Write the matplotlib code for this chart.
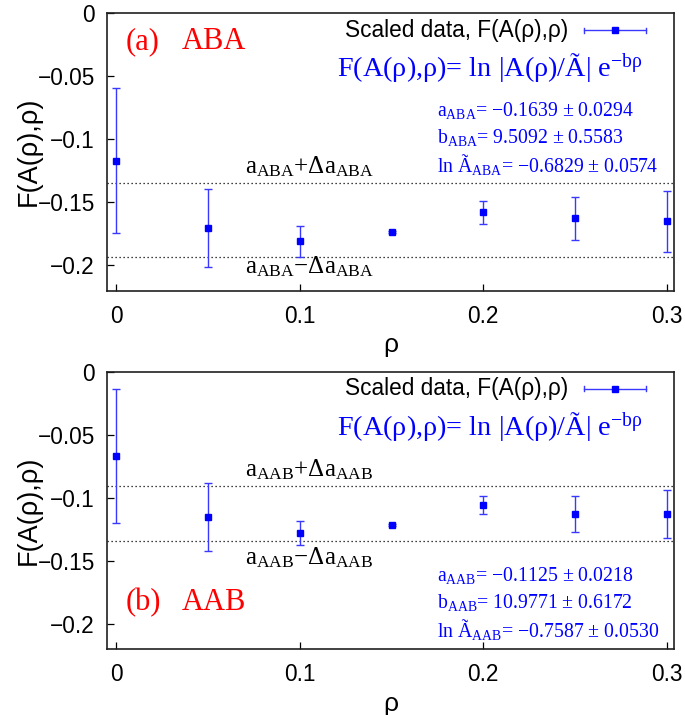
#!/usr/bin/env python3

import matplotlib
matplotlib.use("Agg")
import matplotlib.pyplot as plt

plt.rcParams["font.family"] = ["Liberation Sans", "DejaVu Sans"]
plt.rcParams["mathtext.fontset"] = "custom"
plt.rcParams["mathtext.rm"] = "Liberation Serif"
plt.rcParams["mathtext.it"] = "Liberation Serif:italic"
plt.rcParams["mathtext.bf"] = "Liberation Serif:bold"

##########################################################################
# DATA
##########################################################################

rho = [0.0, 0.05, 0.10, 0.15, 0.20, 0.25, 0.30]

F_aba = [-0.117, -0.1705, -0.181, -0.1737, -0.158, -0.1626, -0.165]
dF_aba = [0.0575, 0.031, 0.012, 0.001, 0.009, 0.017, 0.024]

F_aab = [-0.067, -0.115, -0.1278, -0.1215, -0.1057, -0.1128, -0.1128]
dF_aab = [0.053, 0.027, 0.0098, 0.001, 0.007, 0.014, 0.0187]

# fit results: a, da, b, db, lnA, dlnA
fit_aba = ["-0.1639", "0.0294", "9.5092", "0.5583", "-0.6829", "0.0574"]
fit_aab = ["-0.1125", "0.0218", "10.9771", "0.6172", "-0.7587", "0.0530"]

x_ticks = [0, 0.1, 0.2, 0.3]
x_ticklabels = ["0", "0.1", "0.2", "0.3"]
y_ticks = [0, -0.05, -0.1, -0.15, -0.2]
y_ticklabels = ["0", "\u22120.05", "\u22120.1", "\u22120.15", "\u22120.2"]

BLUE = "#0000ff"
RED = "#ff0000"
SERIF = ["Liberation Serif", "DejaVu Serif"]


def minus(s):
    return s.replace("-", "\u2212")


##########################################################################
# GRAPHING
##########################################################################

def draw_panel(ax, F, dF, fit, name, tag, tag_y, fit_y, lbl_hi_y, lbl_lo_y):
    a = float(fit[0])
    da = float(fit[1])

    # band of the fitted a
    ax.axhline(a + da, color="black", lw=0.9, ls=(0, (1, 2.2)))
    ax.axhline(a - da, color="black", lw=0.9, ls=(0, (1, 2.2)))

    # the data
    ax.errorbar(rho, F, yerr=dF, fmt="s", color=BLUE, ecolor="#3838ff",
                ms=4.2, elinewidth=1.0, capsize=2.6, capthick=1.0)

    # key in the upper right corner
    ax.text(0.814, 0.938, "Scaled data, F(A(\u03c1),\u03c1)", transform=ax.transAxes,
            ha="right", va="center", fontsize=16.3)
    ax.plot([0.841, 0.951], [0.938, 0.938], color="#3838ff", lw=1.0,
            transform=ax.transAxes, clip_on=False)
    for xc in (0.841, 0.951):
        ax.plot([xc, xc], [0.929, 0.947], color="#3838ff", lw=1.0,
                transform=ax.transAxes, clip_on=False)
    ax.plot([0.896], [0.938], "s", color=BLUE, ms=4.2, transform=ax.transAxes)

    ax.text(0.4045, 0.768,
            "F(A(\u03c1),\u03c1)= ln |A(\u03c1)/\u00c3| e$^{\\mathrm{\u2212b\u03c1}}$",
            transform=ax.transAxes, ha="left", va="baseline",
            fontsize=20.3, color=BLUE, family=SERIF)

    # panel tag
    ax.text(0.033, tag_y, "(%s)" % tag[0], transform=ax.transAxes,
            ha="left", va="baseline", fontsize=22, color=RED, family=SERIF)
    ax.text(0.131, tag_y, tag[1], transform=ax.transAxes,
            ha="left", va="baseline", fontsize=22, color=RED, family=SERIF)

    # fit parameters
    sub = "$_{\\mathrm{%s}}$" % name
    lines = [
        "a%s= %s \u00b1 %s" % (sub, minus(fit[0]), fit[1]),
        "b%s= %s \u00b1 %s" % (sub, fit[2], fit[3]),
        "ln \u00c3%s= %s \u00b1 %s" % (sub, minus(fit[4]), fit[5]),
    ]
    for line, yy in zip(lines, fit_y):
        ax.text(0.582, yy, line, transform=ax.transAxes, ha="left",
                va="baseline", fontsize=14.2, color=BLUE, family=SERIF)

    # labels of the band
    ax.text(0.243, lbl_hi_y, "a%s+\u0394a%s" % (sub, sub), transform=ax.transAxes,
            ha="left", va="baseline", fontsize=18, family=SERIF)
    ax.text(0.243, lbl_lo_y, "a%s\u2212\u0394a%s" % (sub, sub), transform=ax.transAxes,
            ha="left", va="baseline", fontsize=18, family=SERIF)

    # axes
    ax.set_xlim(-0.005, 0.304)
    ax.set_ylim(-0.22, 0)
    ax.set_xticks(x_ticks)
    ax.set_xticklabels(x_ticklabels)
    ax.set_yticks(y_ticks)
    ax.set_yticklabels(y_ticklabels)
    ax.tick_params(direction="in", length=5, width=0.9, labelsize=16.3,
                   top=False, right=False, pad=9)
    ax.tick_params(axis="x", pad=10)
    for s in ax.spines.values():
        s.set_linewidth(1.2)
        s.set_color("#202020")
    ax.set_xlabel("\u03c1", fontsize=19, labelpad=4)
    ax.set_ylabel("F(A(\u03c1),\u03c1)", fontsize=19.5)
    ax.yaxis.set_label_coords(-0.116, 0.5)


fig = plt.figure(figsize=(6.85, 7.15), dpi=100)
ax1 = fig.add_axes([0.1566, 0.5934, 0.8273, 0.3887])
ax2 = fig.add_axes([0.1566, 0.0919, 0.8273, 0.3883])

draw_panel(ax1, F_aba, dF_aba, fit_aba, "ABA", ("a", "ABA"), 0.869,
           [0.629, 0.531, 0.428], 0.4235, 0.0637)
draw_panel(ax2, F_aab, dF_aab, fit_aab, "AAB", ("b", "AAB"), 0.1425,
           [0.247, 0.149, 0.046], 0.622, 0.304)

fig.savefig("out.png", dpi=100)
